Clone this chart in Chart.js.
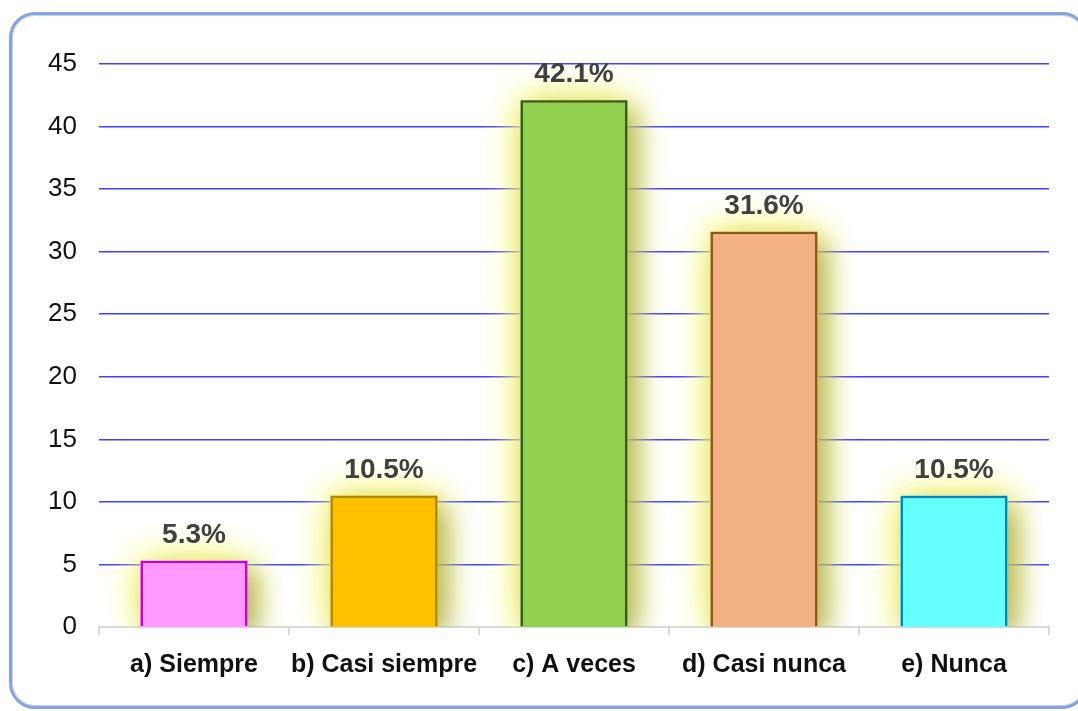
<!DOCTYPE html>
<html>
<head>
<meta charset="utf-8">
<script src="https://cdn.jsdelivr.net/npm/chart.js@4/dist/chart.umd.min.js"></script>
<style>
  html, body { margin: 0; padding: 0; background: #fff; overflow: hidden; }
  #wrap { position: relative; width: 1078px; height: 711px; }
  #frame {
    position: absolute; left: 9px; top: 12px; width: 1073px; height: 691px;
    border: 3px solid #86a3dc; border-radius: 26px;
    box-shadow: inset 0 0 0 1px #c5d3ef;
  }
  #playerChart { position: absolute; left: 0; top: 0; }
</style>
</head>
<body>
<div id="wrap">
  <div id="frame"></div>
  <canvas id="playerChart" width="1078" height="711"></canvas>
</div>
<script>
const categories = ['a) Siempre', 'b) Casi siempre', 'c) A veces', 'd) Casi nunca', 'e) Nunca'];
const percentValues = [5.3, 10.5, 42.1, 31.6, 10.5];
const yTicks = [0, 5, 10, 15, 20, 25, 30, 35, 40, 45];
const fillColors = ['#ff99ff', '#ffc000', '#92d050', '#f4b183', '#66ffff'];
const edgeColors = ['#cc00cc', '#b08a00', '#3b5a25', '#8a5a10', '#0c7fc0'];

document.addEventListener('DOMContentLoaded', function() {
    const canvas = document.getElementById('playerChart');
    const ctx = canvas.getContext('2d');

    // soft yellow glow behind the bars, drawn before the bars themselves
    const glowPlugin = {
        id: 'glow',
        beforeDatasetsDraw(chart) {
            const c = chart.ctx;
            const meta = chart.getDatasetMeta(0);
            const area = chart.chartArea;
            c.save();
            c.beginPath();
            c.rect(area.left, area.top - 40, area.right - area.left, area.bottom - area.top + 40);
            c.clip();
            meta.data.forEach(function(bar, i) {
                const w = bar.width;
                const left = bar.x - w / 2;
                const h = bar.base - bar.y;
                c.fillStyle = fillColors[i];
                // yellow halo
                c.shadowColor = 'rgba(250,250,130,1)';
                c.shadowBlur = 36;
                c.shadowOffsetX = 0;
                c.shadowOffsetY = 0;
                c.fillRect(left, bar.y, w, h);
                c.fillRect(left, bar.y, w, h);
                // darker olive shade toward the right
                c.shadowColor = 'rgba(130,130,50,0.6)';
                c.shadowBlur = 26;
                c.shadowOffsetX = 10;
                c.fillRect(left, bar.y + 10, w, h);
            });
            c.restore();
        }
    };

    // percentage labels above each bar
    const valueLabels = {
        id: 'valueLabels',
        afterDatasetsDraw(chart) {
            const c = chart.ctx;
            const meta = chart.getDatasetMeta(0);
            c.save();
            c.font = 'bold 28px "Liberation Sans", Arial, sans-serif';
            c.fillStyle = '#404040';
            c.textAlign = 'center';
            c.textBaseline = 'alphabetic';
            meta.data.forEach(function(bar, i) {
                c.fillText(percentValues[i].toFixed(1) + '%', bar.x, bar.y - 18);
            });
            c.restore();
        }
    };

    new Chart(ctx, {
        type: 'bar',
        data: {
            labels: categories,
            datasets: [{
                data: percentValues,
                backgroundColor: fillColors,
                borderColor: edgeColors,
                borderWidth: 2.5,
                borderSkipped: 'bottom',
                categoryPercentage: 1,
                barPercentage: 0.563,
            }],
        },
        options: {
            responsive: false,
            animation: false,
            layout: { padding: { left: 0, right: 29, top: 64, bottom: 0 } },
            plugins: {
                legend: { display: false },
                tooltip: { enabled: false },
            },
            scales: {
                x: {
                    offset: true,
                    grid: {
                        offset: true,
                        drawOnChartArea: false,
                        drawTicks: true,
                        tickLength: 8,
                        color: '#d9d9d9',
                        lineWidth: 2,
                    },
                    border: { color: '#d9d9d9', width: 2 },
                    ticks: {
                        color: '#111',
                        padding: 15,
                        maxRotation: 0,
                        minRotation: 0,
                        autoSkip: false,
                        font: { family: '"Liberation Sans", Arial, sans-serif', size: 25, weight: 'bold' },
                    },
                    afterFit: function(scale) { scale.height = 84; },
                },
                y: {
                    min: 0,
                    max: 45,
                    afterBuildTicks: function(scale) {
                        scale.ticks = yTicks.map(function(v) { return { value: v }; });
                    },
                    grid: {
                        drawTicks: false,
                        color: function(c) { return c.tick && c.tick.value === 0 ? 'rgba(0,0,0,0)' : '#3f3fff'; },
                        lineWidth: 1.5,
                    },
                    border: { display: false },
                    ticks: {
                        color: '#111',
                        padding: 22,
                        font: { family: '"Liberation Sans", Arial, sans-serif', size: 26 },
                    },
                    afterFit: function(scale) { scale.width = 99; },
                },
            },
        },
        plugins: [glowPlugin, valueLabels],
    });
});
</script>
</body>
</html>
